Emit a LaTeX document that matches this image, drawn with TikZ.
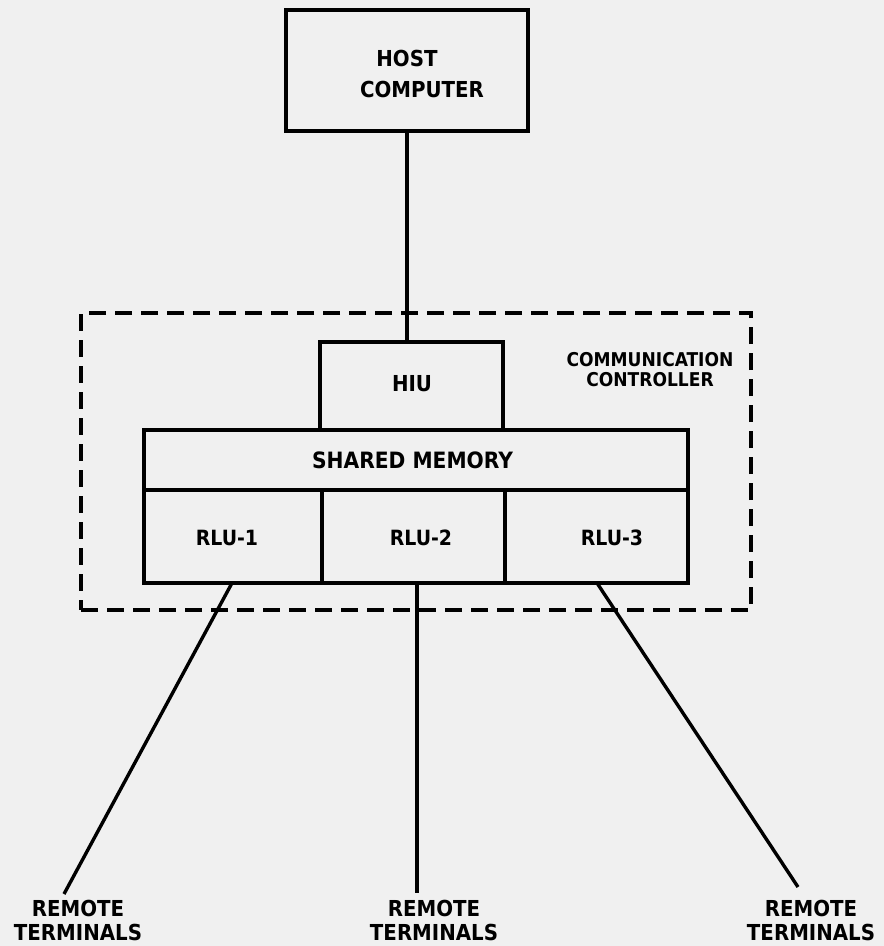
\documentclass[tikz,border=0pt]{standalone}
\usepackage{fontspec}
\setmainfont{DejaVu Sans Condensed}
\begin{document}
\begin{tikzpicture}[x=1pt,y=-1pt,
  box/.style={draw=black,line width=3.6pt,rectangle,inner sep=0pt,fill=none},
  lbl/.style={font=\fontsize{22}{24}\bfseries\selectfont,align=center,inner sep=0pt},
  small/.style={font=\fontsize{19}{20}\bfseries\selectfont,align=center,inner sep=0pt},
  conn/.style={draw=black,line width=3.4pt},
  ccbox/.style={draw=black,line width=3.4pt,dash pattern=on 17pt off 9pt,rectangle,inner sep=0pt}]
\fill[black!6] (0,0) rectangle (884,946);
\useasboundingbox (0,0) rectangle (884,946);
% dashed communication controller boundary
\node[ccbox,minimum width=670pt,minimum height=297pt] (cc) at (416,461.5) {};
\node[small] (cclbl) at (650,370) {COMMUNICATION\\CONTROLLER};
% host
\node[box,minimum width=242pt,minimum height=121pt] (host) at (407,70.5) {};
\node[lbl] (hosttxt) at (422,73.5) {\hspace*{-30pt}HOST\\[7pt]COMPUTER};
% HIU
\node[box,minimum width=183pt,minimum height=88pt] (hiu) at (411.5,386) {};
\node[lbl] (hiutxt) at (412,384) {HIU};
% shared memory
\node[box,minimum width=544pt,minimum height=60pt] (shm) at (416,460) {};
\node[lbl,font=\fontsize{22.5}{24}\bfseries\selectfont] (shmtxt) at (412.5,460) {SHARED MEMORY};
% RLUs
\node[box,minimum width=178pt,minimum height=93pt] (rlu1) at (233,536.5) {};
\node[box,minimum width=183pt,minimum height=93pt] (rlu2) at (413.5,536.5) {};
\node[box,minimum width=183pt,minimum height=93pt] (rlu3) at (596.5,536.5) {};
\node[lbl,font=\fontsize{21}{24}\bfseries\selectfont] (rlu1txt) at (227,538) {RLU-1};
\node[lbl,font=\fontsize{21}{24}\bfseries\selectfont] (rlu2txt) at (421,538) {RLU-2};
\node[lbl,font=\fontsize{21}{24}\bfseries\selectfont] (rlu3txt) at (612,538) {RLU-3};
% remote terminals
\node[lbl] (rt1) at (78,920) {REMOTE\\TERMINALS};
\node[lbl] (rt2) at (434,920) {REMOTE\\TERMINALS};
\node[lbl] (rt3) at (811,920) {REMOTE\\TERMINALS};
\coordinate (s1) at (232,583);
\coordinate (s2) at (417,583);
\coordinate (s3) at (597,583);
\coordinate (e1) at (64,894);
\coordinate (e2) at (417,893);
\coordinate (e3) at (798,887);
% connectors
\draw[conn] (host.south) -- (host.south |- hiu.north);
\draw[conn] (s1) -- (e1);
\draw[conn] (s2) -- (e2);
\draw[conn] (s3) -- (e3);
\end{tikzpicture}
\end{document}
